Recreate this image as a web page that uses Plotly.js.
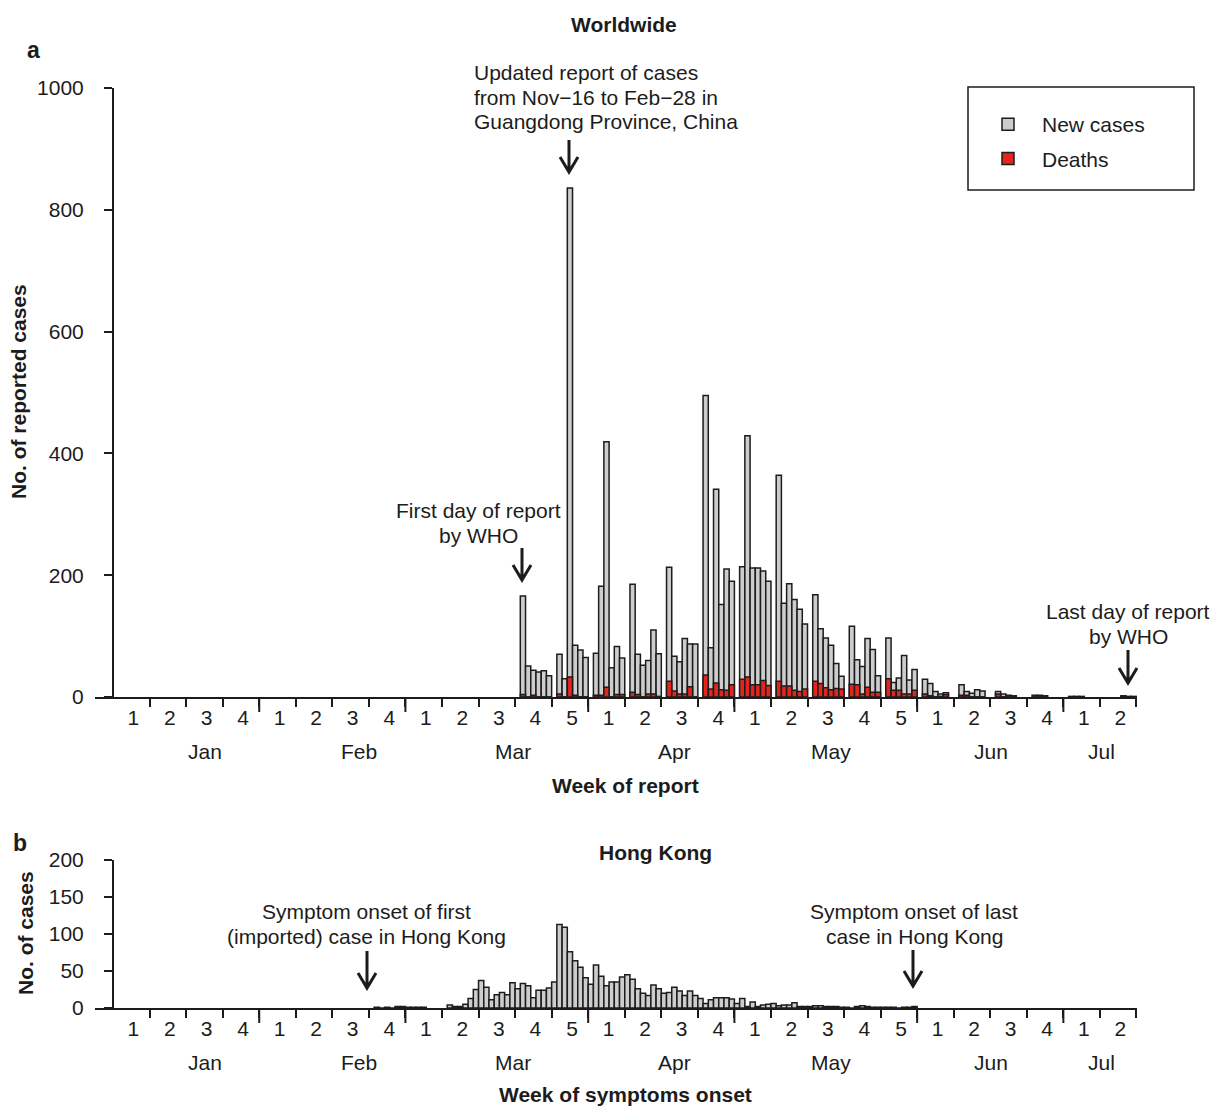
<!DOCTYPE html>
<html>
<head>
<meta charset="utf-8">
<script src="https://cdn.plot.ly/plotly-3.0.1.min.js"></script>
<style>html,body{margin:0;padding:0;background:#ffffff;}</style>
</head>
<body>
<div id="chart" style="width:1221px;height:1106px;"></div>
<script>
// ================= DATA =================
// Week tick labels (weeks of each month) and month names
const weekLabels = ['1','2','3','4', '1','2','3','4', '1','2','3','4','5', '1','2','3','4', '1','2','3','4','5', '1','2','3','4', '1','2'];
const monthNames = ['Jan','Feb','Mar','Apr','May','Jun','Jul'];
// first day (day index) of each month's first week, and day where month name is centred
const monthStartDay = [0, 28, 56, 91, 119, 154, 182];
const monthLabelDay = [17.7, 47.1, 76.6, 107.5, 137.5, 168.2, 189.3];

// (a) Worldwide: day of report (day index from start of Jan week 1)
const reportDay = [
  78,79,80,81,82,83,
  85,86,87,88,89,90,
  92,93,94,95,96,97,
  99,100,101,102,103,104,
  106,107,108,109,110,111,
  113,114,115,116,117,118,
  120,121,122,123,124,125,
  127,128,129,130,131,132,
  134,135,136,137,138,139,
  141,142,143,144,145,146,
  148,149,150,151,152,153,
  155,156,157,158,159,
  162,163,164,165,166,
  169,170,171,172,
  176,177,178,
  183,184,185,
  193,194,195
];
const newCases = [
  166,51,44,41,43,35,
  70,30,836,85,77,65,
  72,182,419,48,83,64,
  185,70,52,60,110,71,
  213,67,58,96,87,87,
  495,81,341,152,210,190,
  214,429,212,212,207,190,
  364,154,186,160,144,120,
  168,112,97,85,55,34,
  116,61,50,96,78,35,
  97,24,31,68,28,45,
  29,22,9,5,7,
  20,9,6,12,10,
  9,5,3,2,
  3,3,2,
  1,1,1,
  2,1,1
];
const deaths = [
  4,0,3,0,0,0,
  5,0,33,3,0,0,
  3,3,16,0,4,4,
  8,4,0,5,5,1,
  26,10,5,5,17,0,
  36,13,23,12,11,20,
  29,33,20,20,27,19,
  26,18,18,11,9,13,
  26,22,15,12,14,13,
  21,20,5,16,8,8,
  30,11,11,5,5,11,
  5,2,0,1,4,
  3,3,0,0,0,
  5,0,0,0,
  0,0,0,
  0,0,0,
  0,0,0
];

// (b) Hong Kong: day of symptom onset
const onsetDay = [
  50,51,52,53,54,55,56,57,58,59,
  64,65,66,67,68,69,70,71,72,73,74,75,76,77,78,79,80,81,82,83,84,
  85,86,87,88,89,90,91,92,93,94,95,96,97,98,99,100,101,102,103,104,
  105,106,107,108,109,110,111,112,113,114,115,116,117,118,119,120,121,122,123,124,125,126,127,128,129,130,131,132,
  133,134,135,136,137,138,139,140,141,142,143,144,145,146,147,148,149,150,151,152,153
];
const hkCases = [
  1,0,1,0,2,2,1,1,1,1,
  4,2,2,5,13,25,37,28,11,18,21,18,34,26,33,30,14,24,24,27,35,
  113,109,76,64,55,41,32,58,43,30,35,35,42,45,39,26,20,17,31,26,
  20,21,28,23,17,23,17,13,6,11,14,14,14,12,6,13,2,8,2,4,5,6,3,4,4,7,2,2,
  2,3,3,2,2,2,1,1,0,2,3,2,1,1,1,1,1,0,1,1,2
];

// ================= LAYOUT HELPERS =================
const W = 1221, H = 1106, ML = 95, MR = 84;
const PW = W - ML - MR;
const px = p => (p - ML) / PW;      // pixel x -> paper x
const py = p => 1 - p / H;          // pixel y -> paper y
const INK = '#1c1c1c';
const GRAY = '#cdcdcd';
const RED = '#e2261d';
const FONT = 'Liberation Sans, Arial, Helvetica, sans-serif';
const xRange = [-3.45, 196.1];
const nWeeks = weekLabels.length;
const weekBounds = Array.from({length: nWeeks}, (_, k) => 7 * (k + 1));
const longTicks = monthStartDay.slice(1);
const weekLabelPos = Array.from({length: nWeeks}, (_, k) => 7 * k + 3.9);
const yAxisPos = px(113);

function xAxis(anchor) {
  return {range: xRange, autorange: false, showgrid: false, zeroline: false, fixedrange: true, anchor: anchor,
    showline: true, linewidth: 2, linecolor: INK,
    tickmode: 'array', tickvals: weekLabelPos, ticktext: weekLabels, ticks: '', ticklabelstandoff: 1,
    tickfont: {size: 21, color: INK, family: FONT},
    minor: {tickmode: 'array', tickvals: weekBounds, ticks: 'outside', ticklen: 8, tickwidth: 2, tickcolor: INK, showgrid: false}};
}

function yAxis(domain, range, tickvals) {
  return {domain: domain, range: range, autorange: false, anchor: 'free', position: yAxisPos,
    showline: true, linewidth: 2, linecolor: INK, ticks: 'outside', ticklen: 8, tickwidth: 2, tickcolor: INK,
    tickmode: 'array', tickvals: tickvals, ticklabelstandoff: 16, showgrid: false, zeroline: false, fixedrange: true,
    tickfont: {size: 21, color: INK, family: FONT}};
}

function txt(text, x, y, o) {
  return Object.assign({text: text, x: px(x), y: py(y), xref: 'paper', yref: 'paper', showarrow: false,
    xanchor: 'center', yanchor: 'middle', font: {size: 21, color: INK, family: FONT}}, o || {});
}
function arrow(x, yTop, yTip) {
  const hw = 9, hh = 15;
  return {type: 'path', xref: 'paper', yref: 'paper', line: {color: INK, width: 3},
    path: `M${px(x)},${py(yTop)} L${px(x)},${py(yTip)} M${px(x - hw)},${py(yTip - hh)} L${px(x)},${py(yTip)} L${px(x + hw)},${py(yTip - hh)}`};
}

const annotations = [
  txt('<b>Worldwide</b>', 624, 24),
  txt('<b>a</b>', 33, 50, {font: {size: 23, color: INK, family: FONT}}),
  txt('Updated report of cases', 472, 72, {xanchor: 'left'}),
  txt('from Nov\u221216 to Feb\u221228 in', 472, 97, {xanchor: 'left'}),
  txt('Guangdong Province, China', 472, 122, {xanchor: 'left'}),
  txt('First day of report', 478, 510),
  txt('by WHO', 478, 535),
  txt('Last day of report', 1128, 611),
  txt('by WHO', 1128, 636),
  txt('<b>No. of reported cases</b>', 18, 392, {textangle: -90}),
  txt('<b>Week of report</b>', 625, 785),
  txt('<b>b</b>', 20, 843, {font: {size: 23, color: INK, family: FONT}}),
  txt('<b>Hong Kong</b>', 655, 852),
  txt('<b>No. of cases</b>', 25, 933, {textangle: -90}),
  txt('Symptom onset of first', 366, 911),
  txt('(imported) case in Hong Kong', 366, 936),
  txt('Symptom onset of last', 914, 911),
  txt('case in Hong Kong', 914, 936),
  txt('<b>Week of symptoms onset</b>', 625, 1094)
];
monthNames.forEach((m, i) => {
  annotations.push({text: m, x: monthLabelDay[i], xref: 'x', y: py(751), yref: 'paper', showarrow: false,
    xanchor: 'center', yanchor: 'middle', font: {size: 21, color: INK, family: FONT}});
  annotations.push({text: m, x: monthLabelDay[i], xref: 'x2', y: py(1062), yref: 'paper', showarrow: false,
    xanchor: 'center', yanchor: 'middle', font: {size: 21, color: INK, family: FONT}});
});

const shapes = [
  arrow(569, 140, 172),
  arrow(522, 548, 580),
  arrow(1128, 650, 683),
  arrow(367, 951, 988),
  arrow(913, 950, 986),
  {type: 'rect', xref: 'paper', yref: 'paper', x0: px(968), x1: px(1194), y0: py(190), y1: py(87),
   line: {color: INK, width: 1.5}, fillcolor: 'rgba(0,0,0,0)'}
];
// longer ticks at month boundaries (both panels)
longTicks.forEach(d => {
  shapes.push({type: 'line', xref: 'x', yref: 'paper', x0: d, x1: d, y0: py(697), y1: py(712), line: {color: INK, width: 2}});
  shapes.push({type: 'line', xref: 'x2', yref: 'paper', x0: d, x1: d, y0: py(1008), y1: py(1023), line: {color: INK, width: 2}});
});

const barLine = {color: INK, width: 1.5};
const traces = [
  {type: 'bar', name: 'New cases', x: reportDay, y: newCases, width: 1, offset: 0, xaxis: 'x', yaxis: 'y',
   marker: {color: GRAY, line: barLine}, legendgroup: 'g1', hoverinfo: 'skip'},
  {type: 'bar', name: 'Deaths', x: reportDay, y: deaths, width: 1, offset: 0, xaxis: 'x', yaxis: 'y',
   marker: {color: RED, line: barLine}, legendgroup: 'g2', hoverinfo: 'skip'},
  {type: 'bar', name: 'Hong Kong cases', x: onsetDay, y: hkCases, width: 1, offset: 0, xaxis: 'x2', yaxis: 'y2',
   marker: {color: GRAY, line: barLine}, showlegend: false, hoverinfo: 'skip'}
];

const layout = {
  width: W, height: H,
  margin: {l: ML, r: MR, t: 0, b: 0, autoexpand: false},
  paper_bgcolor: '#ffffff', plot_bgcolor: 'rgba(0,0,0,0)',
  font: {family: FONT, size: 21, color: INK},
  barmode: 'overlay', bargap: 0,
  showlegend: true,
  legend: {x: px(974), y: py(104), xanchor: 'left', yanchor: 'top', bgcolor: 'rgba(0,0,0,0)', borderwidth: 0,
    itemwidth: 58, font: {size: 21, color: INK, family: FONT}, traceorder: 'grouped', tracegroupgap: 4},
  xaxis: xAxis('y'),
  xaxis2: xAxis('y2'),
  yaxis: yAxis([py(697), py(88)], [0, 1000], [0, 200, 400, 600, 800, 1000]),
  yaxis2: yAxis([py(1008), py(860)], [0, 200], [0, 50, 100, 150, 200]),
  annotations: annotations,
  shapes: shapes
};

Plotly.newPlot('chart', traces, layout, {staticPlot: true, displayModeBar: false});
</script>
</body>
</html>
